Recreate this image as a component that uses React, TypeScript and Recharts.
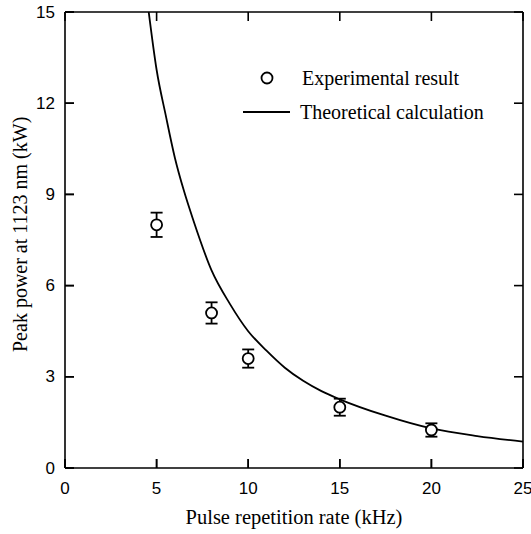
import React from 'react';
import {
  ComposedChart,
  Line,
  Scatter,
  ErrorBar,
  XAxis,
  YAxis,
  Legend,
} from 'recharts';

// experimental points (kHz, kW, error)
const expRate = [5, 8, 10, 15, 20];
const expPower = [8.0, 5.1, 3.6, 2.0, 1.25];
const expErr = [0.4, 0.35, 0.3, 0.28, 0.22];

// theoretical curve
const theoRate = [4.57, 5, 5.5, 6, 6.5, 7, 8, 9, 10, 11, 12, 13, 14, 15, 17.5, 20, 22.5, 25];
const theoPower = [15, 13.1, 11.6, 10.2, 9.1, 8.16, 6.5, 5.4, 4.5, 3.86, 3.3, 2.87, 2.53, 2.26, 1.72, 1.3, 1.05, 0.87];

const xTicks = [0, 5, 10, 15, 20, 25];
const yTicks = [0, 3, 6, 9, 12, 15];

const experimental = expRate.map((x, i) => ({ x, y: expPower[i], err: expErr[i] }));
const theory = theoRate.map((x, i) => ({ x, y: theoPower[i] }));

const SERIF = '"Liberation Serif", "Times New Roman", serif';
const SANS = '"Liberation Sans", Arial, sans-serif';

// tickSize is negative so the tick marks point into the plot;
// the custom ticks get the inner end of the mark as x/y
const BottomTick = ({ x, y, payload }: any) => (
  <g>
    <line x1={x} y1={y} x2={x} y2={y + 9} stroke="#000" strokeWidth={1.6} />
    <text x={x} y={y + 29} textAnchor="middle" dominantBaseline="central" fontFamily={SANS} fontSize={17} fill="#000">
      {payload.value}
    </text>
  </g>
);

const LeftTick = ({ x, y, payload }: any) => (
  <g>
    <line x1={x - 9} y1={y} x2={x} y2={y} stroke="#000" strokeWidth={1.6} />
    <text x={x - 19} y={y} textAnchor="end" dominantBaseline="central" fontFamily={SANS} fontSize={17} fill="#000">
      {payload.value}
    </text>
  </g>
);

const NoLabel = () => <g />;

const OpenCircle = ({ cx, cy }: any) => (
  <circle cx={cx} cy={cy} r={5.5} fill="#fff" stroke="#000" strokeWidth={1.8} />
);

const LegendBox = () => (
  <div style={{ fontFamily: SERIF, fontSize: 20, color: '#000', lineHeight: '34px' }}>
    <div style={{ display: 'flex', alignItems: 'center' }}>
      <svg width={62} height={34}>
        <circle cx={27} cy={17} r={5.5} fill="#fff" stroke="#000" strokeWidth={1.8} />
      </svg>
      <span>Experimental result</span>
    </div>
    <div style={{ display: 'flex', alignItems: 'center' }}>
      <svg width={60} height={34}>
        <line x1={3} y1={17} x2={50} y2={17} stroke="#000" strokeWidth={1.8} />
      </svg>
      <span>Theoretical calculation</span>
    </div>
  </div>
);

export default function App() {
  return (
    <div style={{ position: 'absolute', left: 0, top: 0, width: 531, height: 534, background: '#fff' }}>
      <ComposedChart width={531} height={534} margin={{ top: -8, right: -12, bottom: 36, left: 0 }}>
        <XAxis
          type="number"
          dataKey="x"
          domain={[0, 25]}
          ticks={xTicks}
          height={30}
          tickSize={-9}
          tickMargin={0}
          tick={<BottomTick />}
          tickLine={{ stroke: '#000', strokeWidth: 1.6 }}
          axisLine={{ stroke: '#000', strokeWidth: 1.6 }}
          label={{ value: 'Pulse repetition rate (kHz)', position: 'insideBottom', offset: -26, fontFamily: SERIF, fontSize: 20.5, fill: '#000' }}
        />
        <XAxis
          xAxisId="top"
          orientation="top"
          type="number"
          dataKey="x"
          domain={[0, 25]}
          ticks={xTicks}
          height={20}
          tickSize={-9}
          tick={<NoLabel />}
          tickLine={{ stroke: '#000', strokeWidth: 1.6 }}
          axisLine={{ stroke: '#000', strokeWidth: 1.6 }}
        />
        <YAxis
          type="number"
          domain={[0, 15]}
          ticks={yTicks}
          width={65}
          tickSize={-9}
          tickMargin={0}
          tick={<LeftTick />}
          tickLine={{ stroke: '#000', strokeWidth: 1.6 }}
          allowDataOverflow
          axisLine={{ stroke: '#000', strokeWidth: 1.6 }}
          label={{ value: 'Peak power at 1123 nm (kW)', angle: -90, position: 'insideLeft', offset: 20, dy: 112, fontFamily: SERIF, fontSize: 20, fill: '#000' }}
        />
        <YAxis
          yAxisId="right"
          orientation="right"
          type="number"
          domain={[0, 15]}
          ticks={yTicks}
          width={20}
          tickSize={-9}
          tick={<NoLabel />}
          tickLine={{ stroke: '#000', strokeWidth: 1.6 }}
          allowDataOverflow
          axisLine={{ stroke: '#000', strokeWidth: 1.6 }}
        />
        <Line
          data={theory}
          dataKey="y"
          type="monotone"
          stroke="#000"
          strokeWidth={1.8}
          dot={false}
          isAnimationActive={false}
        />
        {/* invisible twin so the top and right axes get ticks */}
        <Line
          data={theory}
          dataKey="y"
          xAxisId="top"
          yAxisId="right"
          stroke="none"
          dot={false}
          activeDot={false}
          legendType="none"
          isAnimationActive={false}
        />
        <Scatter data={experimental} dataKey="y" shape={<OpenCircle />} isAnimationActive={false}>
          <ErrorBar dataKey="err" direction="y" width={6} stroke="#000" strokeWidth={1.8} />
        </Scatter>
        <Legend
          layout="vertical"
          align="center"
          verticalAlign="middle"
          content={<LegendBox />}
          wrapperStyle={{ position: 'absolute', left: 240, top: 61, width: 285 }}
        />
      </ComposedChart>
    </div>
  );
}
